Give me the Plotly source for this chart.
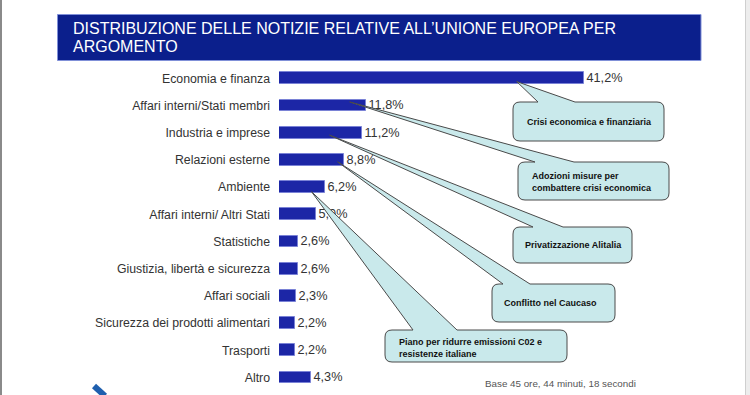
import plotly.graph_objects as go

# ---------------- data ----------------
categories = [
    "Economia e finanza",
    "Affari interni/Stati membri",
    "Industria e imprese",
    "Relazioni esterne",
    "Ambiente",
    "Affari interni/ Altri Stati",
    "Statistiche",
    "Giustizia, libertà e sicurezza",
    "Affari sociali",
    "Sicurezza dei prodotti alimentari",
    "Trasporti",
    "Altro",
]
values = [41.2, 11.8, 11.2, 8.8, 6.2, 5.0, 2.6, 2.6, 2.3, 2.2, 2.2, 4.3]
value_labels = [f"{v:.1f}".replace(".", ",") + "%" for v in values]

title_lines = [
    "DISTRIBUZIONE DELLE NOTIZIE RELATIVE ALL’UNIONE EUROPEA PER",
    "ARGOMENTO",
]
footnote = "Base 45 ore, 44 minuti, 18 secondi"

callout_rows = [0, 1, 2, 3, 4]
callout_texts = [
    "Crisi economica e finanziaria",
    "Adozioni misure per<br>combattere crisi economica",
    "Privatizzazione Alitalia",
    "Conflitto nel Caucaso",
    "Piano per ridurre emissioni C02 e<br>resistenze italiane",
]

# ---------------- layout geometry (pixels) ----------------
W, H = 750, 395
L = 279                 # left margin -> x=0 of the value axis
SX = 7.395              # px per percent
Y0 = 78.3               # px of row 0 centre
SY = 27.2               # px per row
x_max = (W - L) / SX
y_top = -Y0 / SY
y_bot = (H - Y0) / SY

def dx(px):
    return (px - L) / SX

def dy(py):
    return (py - Y0) / SY

def pxx(px):
    return (px - L) / (W - L)

def pyy(py):
    return 1 - py / H

# callout geometry: tip as fraction of bar + row offset; box; wedge base; text anchor
callout_geom = [
    dict(tipf=0.78, tipdy=0.12, box=(513, 102, 664, 141), base=(538, 575), text=(525, 122)),
    dict(tipf=0.81, tipdy=-0.13, box=(518, 162, 669, 200), base=(535, 574), text=(530, 181.5)),
    dict(tipf=0.61, tipdy=0.09, box=(513, 227, 632, 263), base=(533, 563), text=(523, 245)),
    dict(tipf=0.90, tipdy=0.07, box=(492, 284, 615, 322), base=(503, 530), text=(502, 303)),
    dict(tipf=0.71, tipdy=0.17, box=(385, 330, 567, 362), base=(413, 457), text=(397, 347.5)),
]

fig = go.Figure()
fig.add_trace(go.Bar(
    x=values,
    y=list(range(len(categories))),
    orientation="h",
    width=0.44,
    marker=dict(color="#1c26a6", line=dict(color="#7a82d6", width=1)),
    text=value_labels,
    textposition="outside",
    constraintext="none",
    cliponaxis=False,
    textfont=dict(family="Liberation Sans, Arial, sans-serif", size=12.7, color="#333333"),
    hoverinfo="skip",
))

shapes = []
annotations = []

# page borders
shapes.append(dict(type="rect", xref="paper", yref="paper", x0=pxx(0), x1=pxx(2), y0=pyy(395), y1=pyy(0),
                   fillcolor="#8a8a8a", line=dict(width=0), layer="above"))
shapes.append(dict(type="rect", xref="paper", yref="paper", x0=pxx(745), x1=pxx(750), y0=pyy(395), y1=pyy(0),
                   fillcolor="#ededed", line=dict(width=0), layer="above"))
shapes.append(dict(type="line", xref="paper", yref="paper", x0=pxx(745.5), x1=pxx(745.5), y0=pyy(395), y1=pyy(0),
                   line=dict(color="#cfcfcf", width=1), layer="above"))

# title box
shapes.append(dict(type="rect", xref="paper", yref="paper", x0=pxx(57.5), x1=pxx(701), y0=pyy(60.5), y1=pyy(14.5),
                   fillcolor="#0b1f8c", line=dict(color="#8090d8", width=1), layer="above"))
title_y = [27.5, 46.0]
for t, ty in zip(title_lines, title_y):
    annotations.append(dict(xref="paper", yref="paper", x=pxx(71), y=pyy(ty + 1), xanchor="left", yanchor="middle",
                            text=t, showarrow=False,
                            font=dict(family="Liberation Sans, Arial, sans-serif", size=16, color="#ffffff")))

# logo fragment bottom-left
shapes.append(dict(type="line", xref="paper", yref="paper", x0=pxx(94), y0=pyy(386), x1=pxx(105), y1=pyy(396),
                   line=dict(color="#1f5fae", width=6), layer="above"))

# callouts
def callout_path(box, base, tip, r=7):
    x1, y1, x2, y2 = box
    def P(cmd, *xy):
        coords = []
        for i in range(0, len(xy), 2):
            coords.append(f"{dx(xy[i]):.4f},{dy(xy[i+1]):.4f}")
        return cmd + " " + " ".join(coords)
    segs = [
        P("M", x1 + r, y1),
        P("L", base[0], y1),
        P("L", tip[0], tip[1]),
        P("L", base[1], y1),
        P("L", x2 - r, y1),
        P("Q", x2, y1, x2, y1 + r),
        P("L", x2, y2 - r),
        P("Q", x2, y2, x2 - r, y2),
        P("L", x1 + r, y2),
        P("Q", x1, y2, x1, y2 - r),
        P("L", x1, y1 + r),
        P("Q", x1, y1, x1 + r, y1),
    ]
    return " ".join(segs) + " Z"

for row, txt, g in zip(callout_rows, callout_texts, callout_geom):
    tip_px = L + values[row] * g["tipf"] * SX
    tip_py = Y0 + (row + g["tipdy"]) * SY
    shapes.append(dict(type="path", xref="x", yref="y",
                       path=callout_path(g["box"], g["base"], (tip_px, tip_py)),
                       fillcolor="#c9e9eb", line=dict(color="#4a4a4a", width=1), layer="above"))
    annotations.append(dict(xref="x", yref="y", x=dx(g["text"][0]), y=dy(g["text"][1]),
                            xanchor="left", yanchor="middle", align="left", text=txt, showarrow=False,
                            font=dict(family="Liberation Sans, Arial, sans-serif", size=9, color="#111111",
                                      weight="bold")))

annotations.append(dict(xref="paper", yref="paper", x=pxx(483), y=pyy(383), xanchor="left", yanchor="middle",
                        text=footnote, showarrow=False,
                        font=dict(family="Liberation Sans, Arial, sans-serif", size=9.8, color="#555555")))

fig.update_layout(
    width=W, height=H,
    margin=dict(l=L, r=0, t=0, b=0, pad=0),
    paper_bgcolor="#ffffff", plot_bgcolor="#ffffff",
    showlegend=False,
    bargap=0,
    xaxis=dict(range=[0, x_max], visible=False, fixedrange=True),
    yaxis=dict(range=[y_bot, y_top], tickmode="array", tickvals=list(range(len(categories))),
               ticktext=categories, showgrid=False, zeroline=False, showline=False, ticks="",
               ticklabelstandoff=8,
               tickfont=dict(family="Liberation Sans, Arial, sans-serif", size=12.3, color="#333333"),
               fixedrange=True),
    shapes=shapes,
    annotations=annotations,
)

fig.write_html(
    "out.html",
    config={"displayModeBar": False},
    post_script="document.body.style.margin='0';document.body.style.padding='0';document.body.style.overflow='hidden';",
)
